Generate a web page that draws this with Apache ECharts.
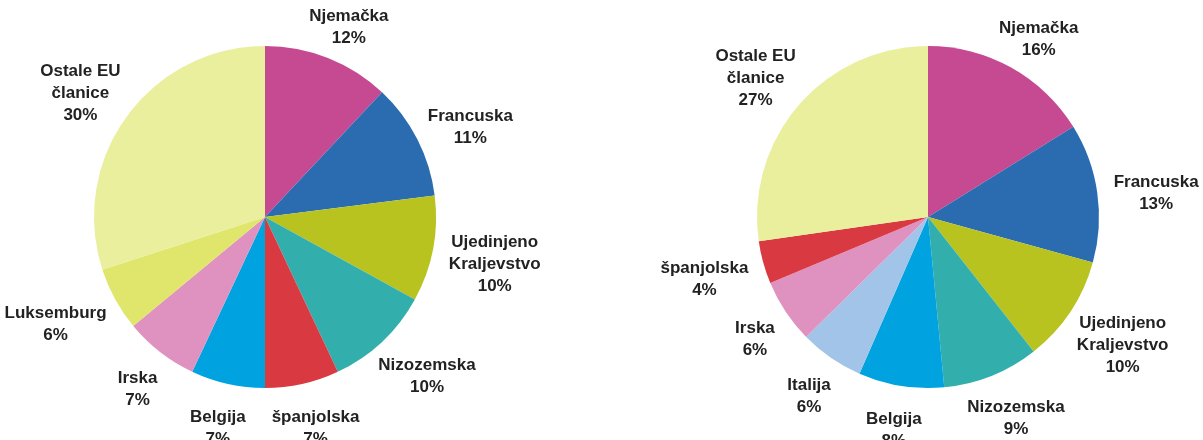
<!DOCTYPE html>
<html>
<head>
<meta charset="utf-8">
<script src="https://cdn.jsdelivr.net/npm/echarts@6/dist/echarts.min.js"></script>
<style>
html,body{margin:0;padding:0;background:#fff;}
#main{width:1203px;height:440px;}
</style>
</head>
<body>
<div id="main"></div>
<script>
// lijevi grafikon
var namesA = ['Njemačka','Francuska','Ujedinjeno\nKraljevstvo','Nizozemska','španjolska','Belgija','Irska','Luksemburg','Ostale EU\nčlanice'];
var valuesA = [12,11,10,10,7,7,7,6,30];
var colorsA = ['#C64A92','#2B6CB1','#B9C31F','#32AFAD','#D93A41','#00A3E0','#DF92BF','#E0E56B','#E9EF9C'];

// desni grafikon
var namesB = ['Njemačka','Francuska','Ujedinjeno\nKraljevstvo','Nizozemska','Belgija','Italija','Irska','španjolska','Ostale EU\nčlanice'];
var valuesB = [16,13,10,9,8,6,6,4,27];
var colorsB = ['#C64A92','#2B6CB1','#B9C31F','#32AFAD','#00A3E0','#A2C4E8','#DF92BF','#D93A41','#E9EF9C'];

var chart = echarts.init(document.getElementById('main'));
var R = 171, GAP = 17, SHIFT_Y = 6;
var centers = [[265,217],[928,217]];
var allValues = [valuesA, valuesB];

function toData(names, values, colors){
    var arr = [];
    for (let i = 0; i < names.length; i++) {
        arr.push({name: names[i], value: values[i], itemStyle: {color: colors[i]}});
    }
    return arr;
}

// labele kao u Excelu: centrirane izvan kruga
function placeLabel(params){
    var vals = allValues[params.seriesIndex];
    var total = 0, before = 0;
    for (let i = 0; i < vals.length; i++) {
        total += vals[i];
        if (i < params.dataIndex) before += vals[i];
    }
    var mid = (before + vals[params.dataIndex] / 2) / total * Math.PI * 2;
    var ux = Math.sin(mid), uy = -Math.cos(mid);
    var w = params.labelRect.width, h = params.labelRect.height;
    var c = centers[params.seriesIndex];
    return {
        x: c[0] + ux * (R + GAP) + ux * w / 2,
        y: c[1] + uy * (R + GAP) + uy * h / 2 + SHIFT_Y,
        align: 'center',
        verticalAlign: 'middle'
    };
}

function pie(names, values, colors, center){
    return {
        type: 'pie',
        radius: R,
        center: center,
        startAngle: 90,
        clockwise: true,
        silent: true,
        itemStyle: {borderWidth: 0},
        label: {
            show: true,
            position: 'outside',
            formatter: '{b}\n{c}%',
            fontFamily: 'Liberation Sans',
            fontWeight: 'bold',
            fontSize: 17,
            lineHeight: 22,
            color: '#222',
            align: 'center',
            overflow: 'none'
        },
        labelLine: {show: false},
        labelLayout: placeLabel,
        data: toData(names, values, colors)
    };
}

var option = {
    animation: false,
    series: [
        pie(namesA, valuesA, colorsA, centers[0]),
        pie(namesB, valuesB, colorsB, centers[1])
    ]
};
chart.setOption(option);
</script>
</body>
</html>
